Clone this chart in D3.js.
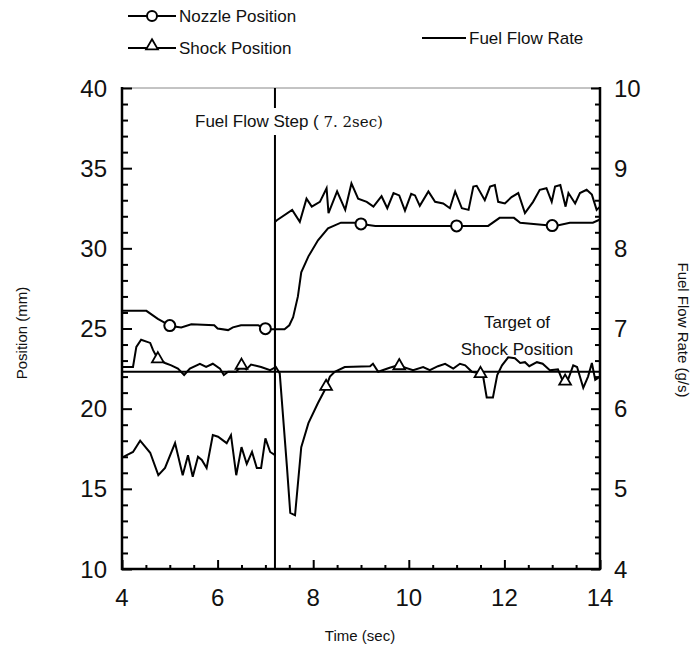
<!DOCTYPE html>
<html>
<head>
<meta charset="utf-8">
<script src="https://cdn.jsdelivr.net/npm/d3@7"></script>
<style>
  html, body { margin: 0; padding: 0; background: #fff; }
  svg { display: block; }
  text { font-family: "Liberation Sans", Arial, sans-serif; fill: #111; }
  .tick-label { font-family: "Liberation Sans Narrow", "Liberation Sans", sans-serif; font-size: 24px; }
</style>
</head>
<body>
<svg id="chart" width="693" height="654"></svg>
<script>
// Time axis (s)
const xTicks = [4, 6, 8, 10, 12, 14];
// Left axis: position (mm)
const leftTicks = [10, 15, 20, 25, 30, 35, 40];
// Right axis: fuel flow rate (g/s)
const rightTicks = [4, 5, 6, 7, 8, 9, 10];

// Nozzle position (mm)
const nozzleTime = [4.0, 4.51, 4.75, 5.02, 5.24, 5.45, 5.93, 6.0, 6.22, 6.32, 6.49, 6.85, 7.03, 7.4, 7.5, 7.58, 7.68, 7.75, 7.9, 8.1, 8.31, 8.58, 8.87, 9.04, 9.3, 11.07, 11.66, 11.9, 12.2, 12.33, 13.06, 13.37, 13.85, 14.0];
const nozzleValue = [26.1, 26.1, 25.6, 25.15, 25.07, 25.26, 25.2, 25.0, 24.9, 25.07, 25.2, 25.2, 24.95, 24.95, 25.2, 25.7, 27.0, 28.5, 29.5, 30.5, 31.25, 31.6, 31.6, 31.5, 31.4, 31.4, 31.4, 31.9, 31.9, 31.6, 31.4, 31.6, 31.6, 31.8];
const nozzleMarkerTime = [5, 7, 9, 11, 13];

// Shock position (mm)
const shockTime = [4.0, 4.23, 4.3, 4.4, 4.59, 4.65, 4.75, 4.9, 5.03, 5.17, 5.3, 5.42, 5.63, 5.76, 5.9, 6.05, 6.13, 6.22, 6.39, 6.5, 6.6, 6.7, 6.91, 7.1, 7.22, 7.3, 7.45, 7.52, 7.62, 7.75, 7.9, 8.1, 8.24, 8.35, 8.45, 8.66, 9.19, 9.25, 9.36, 9.6, 9.77, 10.09, 10.3, 10.44, 10.61, 10.76, 10.93, 11.07, 11.18, 11.32, 11.49, 11.55, 11.63, 11.76, 11.85, 11.95, 12.08, 12.22, 12.33, 12.43, 12.52, 12.68, 12.8, 12.95, 13.12, 13.23, 13.33, 13.44, 13.52, 13.65, 13.75, 13.83, 13.9, 14.0];
const shockValue = [22.6, 22.6, 23.85, 24.3, 24.1, 23.65, 23.1, 22.85, 22.7, 22.5, 22.1, 22.5, 22.8, 22.6, 22.8, 22.5, 22.1, 22.3, 22.3, 22.7, 22.45, 22.75, 22.6, 22.4, 22.6, 22.2, 16.4, 13.5, 13.35, 17.6, 19.1, 20.35, 21.15, 22.0, 22.3, 22.6, 22.65, 22.8, 22.3, 22.55, 22.7, 22.4, 22.6, 22.4, 22.65, 22.8, 22.5, 22.8, 22.7, 22.3, 22.2, 22.1, 20.7, 20.7, 22.1, 22.7, 23.2, 23.15, 22.85, 22.9, 22.65, 22.9, 22.8, 22.4, 22.45, 21.65, 21.8, 22.7, 22.6, 21.3, 22.0, 22.85, 21.8, 22.0];
const shockMarkerTime = [4.75, 6.5, 8.27, 9.8, 11.5, 13.27];

// Fuel flow rate (g/s)
const fuelTime = [4.0, 4.1, 4.23, 4.38, 4.59, 4.76, 4.9, 5.11, 5.27, 5.38, 5.48, 5.59, 5.67, 5.77, 5.9, 6.01, 6.19, 6.28, 6.39, 6.5, 6.61, 6.72, 6.82, 6.91, 7.0, 7.1, 7.2, 7.2, 7.24, 7.56, 7.72, 7.86, 7.97, 8.14, 8.28, 8.32, 8.5, 8.67, 8.8, 8.94, 9.12, 9.26, 9.43, 9.55, 9.68, 9.8, 9.92, 10.05, 10.13, 10.23, 10.41, 10.55, 10.72, 10.86, 10.97, 11.11, 11.25, 11.35, 11.42, 11.59, 11.7, 11.8, 11.87, 12.01, 12.15, 12.29, 12.43, 12.6, 12.74, 12.88, 12.99, 13.06, 13.17, 13.28, 13.34, 13.48, 13.58, 13.72, 13.83, 13.93, 14.0];
const fuelValue = [5.39, 5.42, 5.46, 5.6, 5.45, 5.17, 5.26, 5.57, 5.17, 5.42, 5.15, 5.4, 5.36, 5.26, 5.67, 5.65, 5.57, 5.67, 5.17, 5.52, 5.31, 5.46, 5.26, 5.26, 5.63, 5.46, 5.42, 8.33, 8.35, 8.48, 8.33, 8.62, 8.52, 8.58, 8.75, 8.44, 8.71, 8.48, 8.81, 8.62, 8.58, 8.52, 8.65, 8.5, 8.69, 8.66, 8.47, 8.68, 8.66, 8.53, 8.71, 8.58, 8.56, 8.5, 8.71, 8.5, 8.48, 8.77, 8.78, 8.6, 8.77, 8.79, 8.58, 8.56, 8.64, 8.69, 8.44, 8.58, 8.73, 8.75, 8.58, 8.77, 8.79, 8.52, 8.69, 8.56, 8.69, 8.73, 8.67, 8.48, 8.52];

// Reference lines
const stepTime = 7.2;
const targetPosition = 22.3;

const svg = d3.select("#chart");
const plotLeft = 122, plotRight = 600, plotTop = 88, plotBottom = 569;

const x = d3.scaleLinear().domain([4, 14]).range([plotLeft, plotRight]);
const yL = d3.scaleLinear().domain([10, 40]).range([plotBottom, plotTop]);
const yR = d3.scaleLinear().domain([4, 10]).range([plotBottom, plotTop]);

const zip = (ts, vs) => ts.map((t, i) => ({ t, v: vs[i] }));
const nozzle = zip(nozzleTime, nozzleValue);
const shock = zip(shockTime, shockValue);
const fuel = zip(fuelTime, fuelValue);

// linear interpolation along a series, for marker placement
function valueAt(series, t) {
  for (let i = 1; i < series.length; i++) {
    const a = series[i - 1], b = series[i];
    if (t >= a.t && t <= b.t) {
      if (b.t === a.t) return b.v;
      return a.v + (b.v - a.v) * (t - a.t) / (b.t - a.t);
    }
  }
  return series[series.length - 1].v;
}

// ---- frame: faint top edge
svg.append("line")
  .attr("x1", plotLeft).attr("x2", plotRight).attr("y1", plotTop).attr("y2", plotTop)
  .attr("stroke", "#888").attr("stroke-width", 1);

// ---- axes with inward ticks
const axisLeftG = d3.axisRight(yL)
  .tickValues(d3.range(10, 40.01, 1))
  .tickSize(7).tickFormat("");
const gL = svg.append("g").attr("transform", `translate(${plotLeft},0)`).call(axisLeftG);
gL.selectAll(".tick line").attr("stroke-width", 2)
  .attr("x2", d => (d % 5 === 0 ? 10 : 6));

const axisRightG = d3.axisLeft(yR)
  .tickValues(d3.range(4, 10.001, 0.2).map(v => +v.toFixed(1)))
  .tickSize(7).tickFormat("");
const gR = svg.append("g").attr("transform", `translate(${plotRight},0)`).call(axisRightG);
gR.selectAll(".tick line").attr("stroke-width", 2)
  .attr("x2", d => (Math.abs(d - Math.round(d)) < 1e-6 ? -9 : -5));

const axisBottomG = d3.axisTop(x)
  .tickValues(d3.range(4, 14.001, 0.5))
  .tickSize(4).tickFormat("");
const gB = svg.append("g").attr("transform", `translate(0,${plotBottom})`).call(axisBottomG);
gB.selectAll(".tick line").attr("stroke-width", 2)
  .attr("y2", d => (d % 2 === 0 ? -9 : -4));

[gL, gR, gB].forEach(g => g.select(".domain").remove());

// heavy axis lines
svg.append("line").attr("x1", plotLeft).attr("x2", plotLeft).attr("y1", plotTop - 1).attr("y2", plotBottom + 1)
  .attr("stroke", "#000").attr("stroke-width", 2.5);
svg.append("line").attr("x1", plotRight).attr("x2", plotRight).attr("y1", plotTop - 1).attr("y2", plotBottom + 1)
  .attr("stroke", "#000").attr("stroke-width", 2.5);
svg.append("line").attr("x1", plotLeft - 1).attr("x2", plotRight + 1).attr("y1", plotBottom).attr("y2", plotBottom)
  .attr("stroke", "#000").attr("stroke-width", 2.5);

// ---- tick labels
svg.append("g").selectAll("text").data(leftTicks).join("text")
  .attr("class", "tick-label")
  .attr("x", 107).attr("y", d => yL(d)).attr("dy", "0.36em")
  .attr("text-anchor", "end").text(d => d);

svg.append("g").selectAll("text").data(rightTicks).join("text")
  .attr("class", "tick-label")
  .attr("x", 614).attr("y", d => yR(d)).attr("dy", "0.36em")
  .attr("text-anchor", "start").text(d => d);

svg.append("g").selectAll("text").data(xTicks).join("text")
  .attr("class", "tick-label")
  .attr("x", d => x(d)).attr("y", 606)
  .attr("text-anchor", "middle").text(d => d);

// ---- axis titles
svg.append("text").attr("x", 360).attr("y", 641)
  .attr("text-anchor", "middle").style("font-size", "15px").text("Time (sec)");
svg.append("text")
  .attr("transform", "translate(27,333) rotate(-90)")
  .attr("text-anchor", "middle").style("font-size", "15px").text("Position (mm)");
svg.append("text")
  .attr("transform", "translate(678,330) rotate(90)")
  .attr("text-anchor", "middle").style("font-size", "15px").text("Fuel Flow Rate (g/s)");

// ---- target line
svg.append("line")
  .attr("x1", x(4)).attr("x2", x(14))
  .attr("y1", yL(targetPosition)).attr("y2", yL(targetPosition))
  .attr("stroke", "#000").attr("stroke-width", 2);

// ---- step line
svg.append("line")
  .attr("x1", x(stepTime)).attr("x2", x(stepTime))
  .attr("y1", plotTop).attr("y2", plotBottom)
  .attr("stroke", "#000").attr("stroke-width", 2);

// ---- series lines
const lineL = d3.line().x(d => x(d.t)).y(d => yL(d.v));
const lineR = d3.line().x(d => x(d.t)).y(d => yR(d.v));

svg.append("path").datum(fuel).attr("d", lineR)
  .attr("fill", "none").attr("stroke", "#000").attr("stroke-width", 2);
svg.append("path").datum(shock).attr("d", lineL)
  .attr("fill", "none").attr("stroke", "#000").attr("stroke-width", 2);
svg.append("path").datum(nozzle).attr("d", lineL)
  .attr("fill", "none").attr("stroke", "#000").attr("stroke-width", 2);

// ---- markers
const tri = d3.symbol().type(d3.symbolTriangle).size(60);
svg.append("g").selectAll("path").data(shockMarkerTime).join("path")
  .attr("d", tri)
  .attr("transform", t => `translate(${x(t)},${yL(valueAt(shock, t))})`)
  .attr("fill", "#fff").attr("stroke", "#000").attr("stroke-width", 1.8);

svg.append("g").selectAll("circle").data(nozzleMarkerTime).join("circle")
  .attr("cx", t => x(t)).attr("cy", t => yL(valueAt(nozzle, t)))
  .attr("r", 5.5)
  .attr("fill", "#fff").attr("stroke", "#000").attr("stroke-width", 2);

// ---- annotations
const stepLabel = svg.append("g");
stepLabel.append("rect").attr("x", 192).attr("y", 108).attr("width", 214).attr("height", 27).attr("fill", "#fff");
const st = stepLabel.append("text").attr("x", 195).attr("y", 127).style("font-size", "17px");
st.append("tspan").text("Fuel Flow Step (  ");
st.append("tspan").style("font-family", "'DejaVu Serif', 'Liberation Serif', serif").style("font-size", "15px")
  .text(`${String(stepTime).replace(".", ". ")}sec)`);

svg.append("text").attr("x", 517).attr("y", 328).attr("text-anchor", "middle")
  .style("font-size", "17px").text("Target of");
svg.append("text").attr("x", 517).attr("y", 355).attr("text-anchor", "middle")
  .style("font-size", "17px").text("Shock Position");

// ---- legend
const legend = svg.append("g");
const legendItems = [
  { label: "Nozzle Position", y: 16, marker: "circle", x1: 128, x2: 176, tx: 177, ty: 22 },
  { label: "Shock Position", y: 48, marker: "triangle", x1: 128, x2: 176, tx: 177, ty: 54 },
  { label: "Fuel Flow Rate", y: 38, marker: null, x1: 422, x2: 466, tx: 467, ty: 44 }
];
legendItems.forEach(it => {
  legend.append("line").attr("x1", it.x1).attr("x2", it.x2).attr("y1", it.y).attr("y2", it.y)
    .attr("stroke", "#000").attr("stroke-width", 2);
  const mx = (it.x1 + it.x2) / 2;
  if (it.marker === "circle") {
    legend.append("circle").attr("cx", mx).attr("cy", it.y).attr("r", 5)
      .attr("fill", "#fff").attr("stroke", "#000").attr("stroke-width", 2);
  } else if (it.marker === "triangle") {
    legend.append("path").attr("d", tri).attr("transform", `translate(${mx},${it.y - 2})`)
      .attr("fill", "#fff").attr("stroke", "#000").attr("stroke-width", 1.8);
  }
  legend.append("text").attr("x", it.tx + 2).attr("y", it.ty).style("font-size", "17px").text(it.label);
});
</script>
</body>
</html>
